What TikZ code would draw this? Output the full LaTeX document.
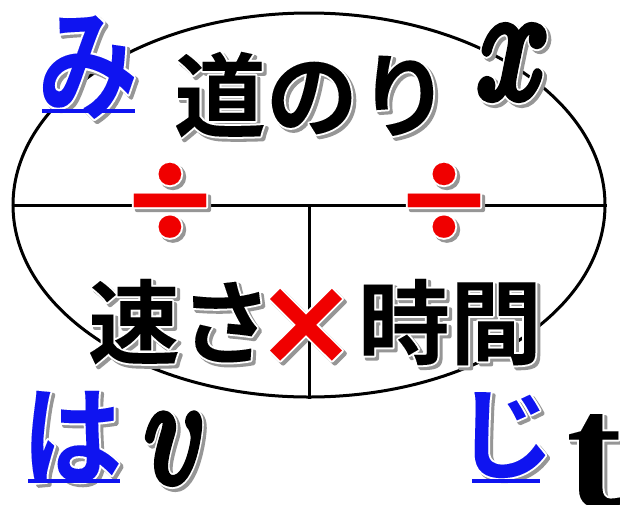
\RequirePackage{fix-cm}
\documentclass[tikz,border=0pt]{standalone}
\usepackage{fontspec}
\usetikzlibrary{shapes.geometric}
\newfontfamily\jpfont{Noto Sans CJK JP Bold}
\newfontfamily\lserif{Liberation Serif}
\newfontfamily\dvs{DejaVu Sans}
\newfontfamily\latofont{Lato}
\definecolor{kanablue}{RGB}{15,20,240}
\definecolor{opred}{RGB}{240,0,0}
\definecolor{shadowc}{RGB}{150,150,150}
% text drawn filled and stroked with a pen of width #1
\newcommand\stroked[2]{\special{pdf:literal direct 1 j 2 Tr #1 w}#2\special{pdf:literal direct 0 Tr}}
% #1 position, #2 name, #3 style, #4 text, #5 extra stroke of the letter itself
\newcommand\decox[5]{%
  \node[#3, text=shadowc, xshift=3pt, yshift=-3pt] at (#1) {\stroked{\fpeval{#5+4}}{#4}};
  \node[#3, text=white] at (#1) {\stroked{\fpeval{#5+4}}{#4}};
  \node[#3] (#2) at (#1) {\stroked{#5}{#4}};
}
\newcommand\deco[4]{\decox{#1}{#2}{#3}{#4}{0.01}}
\newcommand\decob[4]{\decox{#1}{#2}{#3}{#4}{9}}
\begin{document}
\begin{tikzpicture}[x=1pt,y=-1pt,
  bigjp/.style={font=\jpfont\fontsize{92}{92}\selectfont, inner sep=0, anchor=base, text=black},
  kana/.style={font=\jpfont\fontsize{100}{100}\selectfont, inner sep=0, anchor=base, text=kanablue},
  mathit/.style={font=\fontsize{150}{150}\selectfont, inner sep=0, anchor=base, text=black},
  mathitbig/.style={mathit, font=\fontsize{160}{160}\selectfont},
  latinup/.style={font=\lserif\bfseries\fontsize{165}{165}\selectfont, inner sep=0, anchor=base, text=black},
  divsign/.style={font=\latofont\bfseries\fontsize{148}{148}\selectfont, inner sep=0, anchor=base, text=opred},
  timessign/.style={font=\dvs\bfseries\fontsize{122}{122}\selectfont, inner sep=0, anchor=base, text=opred},
  frame/.style={line width=3pt, black},
  uline/.style={line width=4pt, kanablue},
  ushadow/.style={line width=4pt, shadowc, xshift=2pt, yshift=-2pt}]
\useasboundingbox[fill=white] (0,0) rectangle (620,504);
\node[ellipse, draw, frame, minimum width=592pt, minimum height=384pt, inner sep=0] (E) at (309,205) {};
\draw[frame] (E.west) -- (E.east);
\draw[frame] (E.center) -- (E.south);
% division signs
\deco{170,250}{divL}{divsign}{÷}
\deco{444,250}{divR}{divsign}{÷}
% main words
\deco{312,130}{dist}{bigjp}{道のり}
\deco{180,357}{speed}{bigjp}{速さ}
\deco{450,357}{time}{bigjp}{時間}
\deco{306,363}{times}{timessign}{×}
% kana
\deco{88,110}{mi}{kana}{\scalebox{1}[1.22]{み}}
\deco{72,477}{ha}{kana}{\scalebox{1}[1.1]{は}}
\deco{505,471}{ji}{kana}{じ}
% letters
\decob{513,97}{xl}{mathitbig}{\scalebox{0.8}[1]{$x$}}
\decob{175,481}{vl}{mathit}{\scalebox{0.78}[1]{$v$}}
\deco{594,507}{tl}{latinup}{t}
% underlines
\coordinate (u1a) at (42,111); \coordinate (u1b) at (135,111);
\coordinate (u2a) at (28,481); \coordinate (u2b) at (120,481);
\coordinate (u3a) at (472,481); \coordinate (u3b) at (540,481);
\draw[ushadow] (u1a) -- (u1b);
\draw[ushadow] (u2a) -- (u2b);
\draw[ushadow] (u3a) -- (u3b);
\draw[uline] (u1a) -- (u1b);
\draw[uline] (u2a) -- (u2b);
\draw[uline] (u3a) -- (u3b);
\end{tikzpicture}
\end{document}
